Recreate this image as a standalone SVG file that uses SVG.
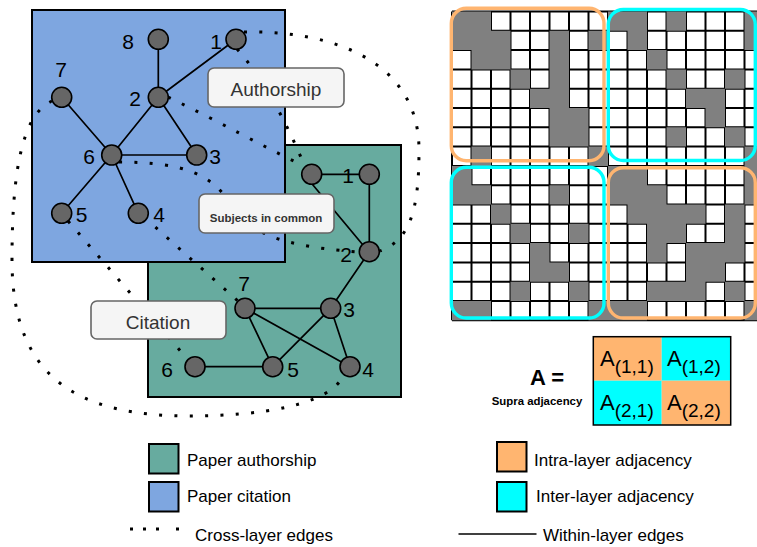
<svg xmlns="http://www.w3.org/2000/svg" width="757" height="547" viewBox="0 0 757 547">
<defs>
<style>
text{font-family:"Liberation Sans",Arial,sans-serif;}
.layer{stroke:#000;stroke-width:2;}
.edge{stroke:#000;stroke-width:1.7;fill:none;}
.cross{stroke:#000;stroke-width:3;fill:none;stroke-dasharray:3 12.3;}
.node circle{fill:#666;stroke:#000;stroke-width:1.6;}
.node text{font-size:21px;fill:#000;text-anchor:middle;}
.lbl rect{fill:#F5F5F5;stroke:#666;stroke-width:1.6;}
.lbl text{fill:#333;text-anchor:middle;}
.blk{fill:none;stroke-width:3.4;}
.leg text{font-size:17px;fill:#000;}
.leg rect{stroke:#000;stroke-width:2;}
.big{font-size:22px;fill:#000;}
.sub{font-size:19px;}
.supra{font-size:11.4px;font-weight:bold;fill:#000;text-anchor:middle;}
</style>
</defs>
<rect width="757" height="547" fill="#fff"/>

<!-- layers -->
<g id="layer-authorship"><rect class="layer" x="148" y="145" width="253" height="252" fill="#67AB9F"/></g>
<g id="layer-citation"><rect class="layer" x="32" y="10" width="253" height="252" fill="#7EA6E0"/></g>

<!-- connectors -->
<g id="connectors">
<g id="within-edges">
<path class="edge" d="M158.3,39.3L158.3,97.3M236,39.3L158.3,97.3M158.3,97.3L111.7,155M158.3,97.3L196.7,155M111.7,155L196.7,155M61.7,97.3L111.7,155M111.7,155L61.7,213.3M111.7,155L138.3,213.3"/>
<path class="edge" d="M311.7,174.3L369.3,174.3M369.3,174.3L369.3,251.7M304,174.3L364,246.3M369.3,251.7L330.7,308.3M245,308.3L330.7,308.3M245,308.3L272.7,366.7M245,308.3L350,366.7M330.7,308.3L272.7,366.7M330.7,308.3L350,366.7M195,366.7L272.7,366.7"/>
</g>
<g id="cross-edges">
<path class="cross" d="M244,32 C330,30 419,60 419,150 C419,210 410,240 380,251"/>
<path class="cross" d="M237,49 C265,80 290,130 305,167"/>
<path class="cross" d="M168,97 C220,122 262,146 304,166"/>
<path class="cross" d="M119,162 C185,162 210,175 228,200 S260,245 359,252"/>
<path class="cross" d="M144,217 L238,301"/>
<path class="cross" d="M68,221 L189,361"/>
<path class="cross" d="M52,101 C20,115 12,180 12,260 C12,380 80,416 190,416 C260,416 330,405 343,376"/>
</g>
</g>

<!-- citation layer nodes -->
<g id="c8" class="node"><text x="128" y="48.5">8</text><circle cx="158.3" cy="39.3" r="10"/></g>
<g id="c1" class="node"><text x="216" y="48.5">1</text><circle cx="236" cy="39.3" r="10"/></g>
<g id="c7" class="node"><text x="61" y="76.7">7</text><circle cx="61.7" cy="97.3" r="10"/></g>
<g id="c2" class="node"><text x="135" y="106">2</text><circle cx="158.3" cy="97.3" r="10"/></g>
<g id="c6" class="node"><text x="89" y="164">6</text><circle cx="111.7" cy="155" r="10"/></g>
<g id="c3" class="node"><text x="215" y="164">3</text><circle cx="196.7" cy="155" r="10"/></g>
<g id="c5" class="node"><text x="81.7" y="221.7">5</text><circle cx="61.7" cy="213.3" r="10"/></g>
<g id="c4" class="node"><text x="159" y="221.7">4</text><circle cx="138.3" cy="213.3" r="10"/></g>

<!-- authorship layer nodes -->
<g id="a8" class="node"><circle cx="311.7" cy="174.3" r="10"/></g>
<g id="a1" class="node"><text x="348" y="182.5">1</text><circle cx="369.3" cy="174.3" r="10"/></g>
<g id="a2" class="node"><text x="346" y="261.7">2</text><circle cx="369.3" cy="251.7" r="10"/></g>
<g id="a3" class="node"><text x="349" y="316.7">3</text><circle cx="330.7" cy="308.3" r="10"/></g>
<g id="a4" class="node"><text x="368" y="376.7">4</text><circle cx="350" cy="366.7" r="10"/></g>
<g id="a5" class="node"><text x="293" y="376.7">5</text><circle cx="272.7" cy="366.7" r="10"/></g>
<g id="a6" class="node"><text x="167" y="376.7">6</text><circle cx="195" cy="366.7" r="10"/></g>
<g id="a7" class="node"><text x="244" y="290.7">7</text><circle cx="245" cy="308.3" r="10"/></g>

<!-- labels -->
<g id="lbl-authorship" class="lbl"><rect x="208" y="68" width="136" height="39" rx="6"/><text x="276" y="96" font-size="19">Authorship</text></g>
<g id="lbl-subjects" class="lbl"><rect x="199" y="194" width="135" height="39" rx="6"/><text x="266" y="221.5" font-size="11.5" font-weight="bold">Subjects in common</text></g>
<g id="lbl-citation" class="lbl"><rect x="91" y="301" width="135" height="38" rx="6"/><text x="158" y="329" font-size="19">Citation</text></g>

<!-- supra adjacency grid -->
<g id="grid">
<g transform="translate(452,11.5) scale(19.5,19.3)">
<rect x="0" y="0" width="16" height="16" fill="#fff"/>
<path fill="none" stroke="#000" stroke-width="2" vector-effect="non-scaling-stroke" d="M0,0V16M1,0V16M2,0V16M3,0V16M4,0V16M5,0V16M6,0V16M7,0V16M8,0V16M9,0V16M10,0V16M11,0V16M12,0V16M13,0V16M14,0V16M15,0V16M16,0V16M0,0H16M0,1H16M0,2H16M0,3H16M0,4H16M0,5H16M0,6H16M0,7H16M0,8H16M0,9H16M0,10H16M0,11H16M0,12H16M0,13H16M0,14H16M0,15H16M0,16H16"/>
<path fill="#808080" d="M0,0h2v1h-2zM8,0h2v1h-2zM11,0h1v1h-1zM15,0h1v1h-1z
M0,1h3v1h-3zM5,1h1v1h-1zM7,1h1v1h-1zM9,1h1v1h-1zM15,1h1v1h-1z
M1,2h2v1h-2zM5,2h1v1h-1zM10,2h1v1h-1z
M3,3h1v1h-1zM5,3h1v1h-1zM11,3h1v1h-1zM14,3h1v1h-1z
M4,4h2v1h-2zM12,4h2v1h-2z
M5,5h2v1h-2zM13,5h1v1h-1z
M5,6h2v1h-2zM11,6h1v1h-1zM14,6h1v1h-1z
M1,7h1v1h-1zM7,7h1v1h-1zM15,7h1v1h-1z
M0,8h1v1h-1zM8,8h2v1h-2zM15,8h1v1h-1z
M0,9h2v1h-2zM5,9h1v1h-1zM8,9h3v1h-3zM15,9h1v1h-1z
M2,10h1v1h-1zM9,10h4v1h-4zM14,10h1v1h-1z
M3,11h1v1h-1zM6,11h1v1h-1zM10,11h2v1h-2zM14,11h1v1h-1z
M4,12h1v1h-1zM10,12h1v1h-1zM12,12h3v1h-3z
M4,13h2v1h-2zM12,13h2v1h-2z
M3,14h1v1h-1zM6,14h1v1h-1zM10,14h3v1h-3zM14,14h1v1h-1z
M0,15h2v1h-2zM7,15h3v1h-3zM15,15h1v1h-1z"/>
</g>
<rect class="blk" x="451.3" y="8.3" width="152.7" height="152.4" rx="15" stroke="#FFB570"/>
<rect class="blk" x="608.3" y="9.5" width="147" height="151" rx="15" stroke="#00FFFF"/>
<rect class="blk" x="451.3" y="167.3" width="152.7" height="150.7" rx="15" stroke="#00FFFF"/>
<rect class="blk" x="608.3" y="167.7" width="147" height="150.3" rx="15" stroke="#FFB570"/>
</g>

<!-- supra adjacency formula -->
<g id="formula">
<text class="big" x="530" y="385" font-weight="bold">A =</text>
<text class="supra" x="537" y="405">Supra adjacency</text>
<rect x="593.3" y="336.7" width="68.4" height="44" fill="#FFB570"/>
<rect x="661.7" y="336.7" width="69" height="44" fill="#00FFFF"/>
<rect x="593.3" y="380.7" width="68.4" height="44.3" fill="#00FFFF"/>
<rect x="661.7" y="380.7" width="69" height="44.3" fill="#FFB570"/>
<rect x="593.3" y="336.7" width="137.4" height="88.3" fill="none" stroke="#000" stroke-width="1.5"/>
<text class="big" x="600" y="366">A<tspan class="sub" dy="7">(1,1)</tspan></text>
<text class="big" x="667" y="366">A<tspan class="sub" dy="7">(1,2)</tspan></text>
<text class="big" x="600" y="410">A<tspan class="sub" dy="7">(2,1)</tspan></text>
<text class="big" x="667" y="410">A<tspan class="sub" dy="7">(2,2)</tspan></text>
</g>

<!-- legend -->
<g id="legend" class="leg">
<rect x="149" y="444" width="29.5" height="29.5" fill="#67AB9F"/>
<text x="187" y="466">Paper authorship</text>
<rect x="149" y="482" width="29.5" height="29.5" fill="#7EA6E0"/>
<text x="187" y="502">Paper citation</text>
<path d="M130,529H180" stroke="#000" stroke-width="3" stroke-dasharray="3 10 3 10 3 17"/>
<text x="195" y="541">Cross-layer edges</text>
<rect x="497" y="442" width="29.5" height="29.5" fill="#FFB570"/>
<text x="534" y="466">Intra-layer adjacency</text>
<rect x="497" y="482" width="29.5" height="29.5" fill="#00FFFF"/>
<text x="536" y="502">Inter-layer adjacency</text>
<path d="M458.5,534H536.5" stroke="#000" stroke-width="1.5"/>
<text x="543" y="541">Within-layer edges</text>
</g>
</svg>
